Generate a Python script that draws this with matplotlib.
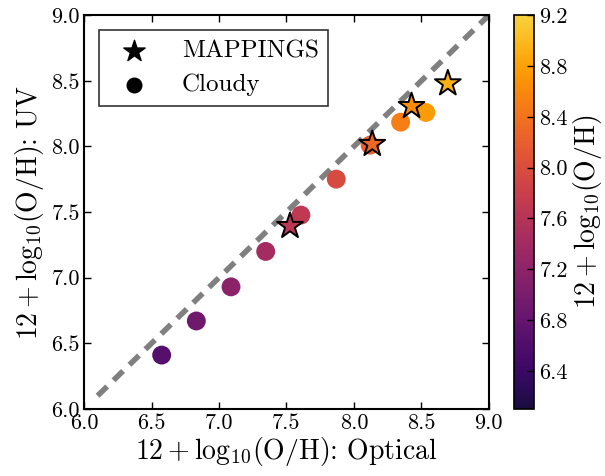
import numpy as np
import matplotlib
matplotlib.use("Agg")
import matplotlib.pyplot as plt
from matplotlib.colors import ListedColormap, Normalize

# Cloudy models
cloudy_opt = [6.575, 6.832, 7.089, 7.346, 7.607, 7.869, 8.12, 8.346, 8.533]
cloudy_uv = [6.41, 6.67, 6.93, 7.20, 7.477, 7.751, 8.01, 8.185, 8.259]
cloudy_z = [6.65, 6.91, 7.17, 7.43, 7.69, 7.95, 8.21, 8.50, 8.76]

# MAPPINGS models
mapp_opt = [7.526, 8.136, 8.427, 8.696]
mapp_uv = [7.393, 8.018, 8.307, 8.48]
mapp_z = [7.65, 8.29, 8.61, 8.93]

one_to_one = [6.1, 9.2]
cbar_ticks = [6.4, 6.8, 7.2, 7.6, 8.0, 8.4, 8.8, 9.2]
zmin, zmax = 6.1, 9.2

plt.rcParams['font.family'] = 'serif'
plt.rcParams['font.serif'] = ['cmr10']
plt.rcParams['mathtext.fontset'] = 'cm'
plt.rcParams['axes.formatter.use_mathtext'] = True

cmap = ListedColormap(plt.cm.inferno(np.linspace(0.11, 0.89, 256)))
norm = Normalize(vmin=zmin, vmax=zmax)

label = r'$12+\mathrm{log}_{10}(\mathrm{O/H})$'

fig = plt.figure(figsize=(6.05, 4.76), dpi=100)
ax = fig.add_axes([0.139, 0.141, 0.669, 0.827])
cax = fig.add_axes([0.8496, 0.141, 0.033, 0.827])

ax.plot(one_to_one, one_to_one, ls='--', color='gray', lw=4, dashes=(2.4, 1.6), zorder=1)
ax.scatter(cloudy_opt, cloudy_uv, c=cloudy_z, cmap=cmap, norm=norm, s=185,
           edgecolors='none', zorder=2)
sc = ax.scatter(mapp_opt, mapp_uv, c=mapp_z, cmap=cmap, norm=norm, s=380,
                marker='*', edgecolors='black', linewidths=1.4, zorder=3)

# legend proxies
ax.scatter([], [], marker='*', s=260, color='black', label='MAPPINGS')
ax.scatter([], [], marker='o', s=110, color='black', label='Cloudy')
leg = ax.legend(loc='upper left', fontsize=18, fancybox=False, scatterpoints=1,
                borderpad=0.4, handletextpad=0.9, labelspacing=0.45,
                handlelength=2.0, borderaxespad=0.6)
leg.get_frame().set_edgecolor('black')
leg.get_frame().set_linewidth(1.2)

ax.set_xlim(6, 9)
ax.set_ylim(6, 9)
ax.set_xticks([6.0, 6.5, 7.0, 7.5, 8.0, 8.5, 9.0])
ax.set_yticks([6.0, 6.5, 7.0, 7.5, 8.0, 8.5, 9.0])
ax.set_xticklabels(['%.1f' % t for t in ax.get_xticks()])
ax.set_yticklabels(['%.1f' % t for t in ax.get_yticks()])
ax.tick_params(direction='in', top=True, right=True, length=5, width=1,
               labelsize=16, pad=3)
for sp in ax.spines.values():
    sp.set_linewidth(1.5)
ax.set_xlabel(label + ': Optical', fontsize=20, labelpad=2)
ax.set_ylabel(label + ': UV', fontsize=20, labelpad=4)

cb = fig.colorbar(sc, cax=cax, ticks=cbar_ticks)
cb.ax.set_yticklabels(['%.1f' % t for t in cbar_ticks])
cb.ax.tick_params(direction='in', length=5, width=1, labelsize=16, pad=4)
cb.outline.set_linewidth(1.2)
cb.set_label(label, fontsize=20, labelpad=2)

fig.savefig('out.png', dpi=100)
